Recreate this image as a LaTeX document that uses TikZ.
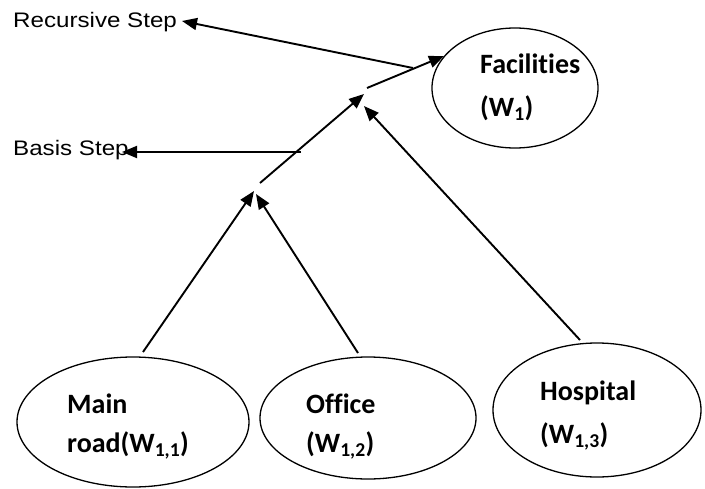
\documentclass[tikz,border=0pt]{standalone}
\usepackage{fontspec}
\setmainfont{Carlito}[Ligatures={NoCommon}]
\newfontfamily\labelfont[FakeStretch=1.15]{Liberation Sans}
\usetikzlibrary{shapes.geometric,arrows.meta}
\tikzset{
  bubble/.style={draw, ellipse, line width=1.3pt, inner sep=0pt},
  bubtext/.style={anchor=base west, inner sep=0pt, font=\fontsize{28}{34}\selectfont\bfseries},
  steplabel/.style={anchor=base west, inner sep=0pt, font=\labelfont\fontsize{21}{25}\selectfont},
  conn/.style={line width=1.9pt, -{Triangle[length=15pt,width=12pt]}},
  plain/.style={line width=1.9pt}
}
\begin{document}
\begin{tikzpicture}[x=1pt,y=-1pt]
\useasboundingbox (0,0) rectangle (705,488);
% ellipses
\node[bubble, minimum width=166pt, minimum height=120pt] (fac) at (515,88) {};
\node[bubble, minimum width=232pt, minimum height=130pt] (main) at (133,422) {};
\node[bubble, minimum width=216pt, minimum height=122pt] (off) at (368,418) {};
\node[bubble, minimum width=208pt, minimum height=134pt] (hos) at (597,410) {};
% texts
\node[bubtext] (facA) at (480,73) {Facilities};
\node[bubtext] (facB) at (480,116) {(W\textsubscript{1})};
\node[bubtext] (mainA) at (67,413) {Main};
\node[bubtext] (mainB) at (67,452) {road(W\textsubscript{1,1})};
\node[bubtext] (offA) at (306,413) {Office};
\node[bubtext] (offB) at (306,452) {(W\textsubscript{1,2})};
\node[bubtext] (hosA) at (540,400) {Hospital};
\node[bubtext] (hosB) at (540,443) {(W\textsubscript{1,3})};
\node[steplabel] (rec) at (13,27) {Recursive Step};
\node[steplabel] (bas) at (13,155) {Basis Step};
% coordinates
\coordinate (c1) at (367,88);
\coordinate (c1t) at (444,56);
\coordinate (r1) at (413,68);
\coordinate (r1t) at (182,21);
\coordinate (c2) at (260,183);
\coordinate (c2t) at (364,94);
\coordinate (h1) at (580,340);
\coordinate (h1t) at (364,106);
\coordinate (b1) at (301,152);
\coordinate (b1t) at (122,152);
\coordinate (m1) at (143,352);
\coordinate (m1t) at (254,191);
\coordinate (o1) at (358,353);
\coordinate (o1t) at (256,194);
% connectors
\draw[conn] (c1) -- (c1t);
\draw[conn] (r1) -- (r1t);
\draw[conn] (c2) -- (c2t);
\draw[conn] (h1) -- (h1t);
\draw[conn] (b1) -- (b1t);
\draw[conn] (m1) -- (m1t);
\draw[conn] (o1) -- (o1t);
\end{tikzpicture}
\end{document}
